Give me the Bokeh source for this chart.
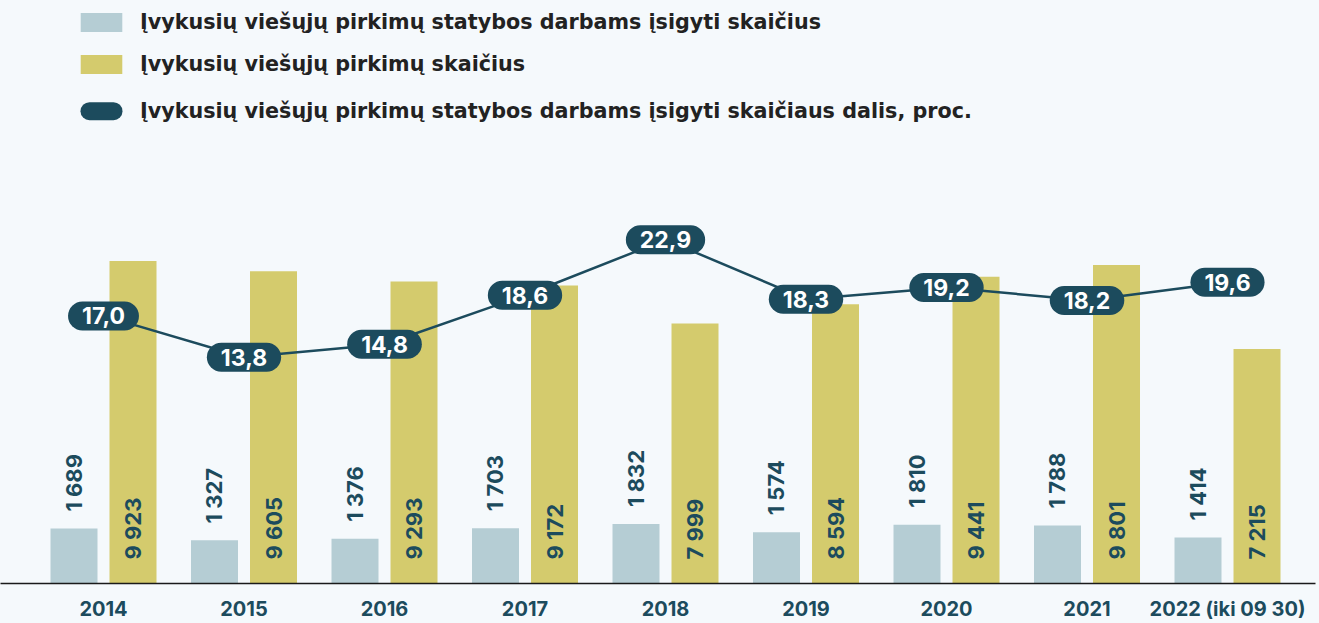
import math
from bokeh.plotting import figure
from bokeh.models import (ColumnDataSource, Range1d, LabelSet, Legend, LegendItem,
                          FixedTicker, BoxAnnotation)
from bokeh.core.properties import value
from bokeh.transform import dodge
from bokeh.embed import file_html
from bokeh.resources import INLINE

# ---------------- data ----------------
years = ["2014", "2015", "2016", "2017", "2018", "2019", "2020", "2021", "2022 (iki 09 30)"]
construction = [1689, 1327, 1376, 1703, 1832, 1574, 1810, 1788, 1414]
total = [9923, 9605, 9293, 9172, 7999, 8594, 9441, 9801, 7215]
share = [17.0, 13.8, 14.8, 18.6, 22.9, 18.3, 19.2, 18.2, 19.6]

legend_labels = [
    "Įvykusių viešųjų pirkimų statybos darbams įsigyti skaičius",
    "Įvykusių viešųjų pirkimų skaičius",
    "Įvykusių viešųjų pirkimų statybos darbams įsigyti skaičiaus dalis, proc.",
]

# ---------------- styles ----------------
BG = "#f5f9fc"
BLUE = "#b5cdd4"
YELLOW = "#d4cb6d"
TEAL = "#1c4b5d"
FONT = "Inter"
LEG_FONT = "DejaVu Sans"

idx = list(range(len(years)))
src = ColumnDataSource(dict(
    idx=idx,
    construction=construction,
    total=total,
    share=share,
    c_txt=[f"{v:,}".replace(",", " ") for v in construction],
    t_txt=[f"{v:,}".replace(",", " ") for v in total],
    s_txt=[f"{v:.1f}".replace(".", ",") for v in share],
    zero=[0] * len(years),
))

W, H = 1319, 623
FRAME_H = 583
PX_PER_UNIT = 0.0325
p = figure(width=W, height=H, output_backend="svg", toolbar_location=None,
           x_range=Range1d(-0.7331, 8.6263), y_range=Range1d(0, FRAME_H / PX_PER_UNIT),
           y_axis_location=None, min_border_left=0, min_border_right=4,
           min_border_top=0, min_border_bottom=40,
           background_fill_color=BG, border_fill_color=BG, outline_line_color=None)
p.extra_y_ranges = {"pct": Range1d(-3.744, 41.45)}
p.xgrid.visible = False
p.ygrid.visible = False

bw = 0.3345
r_blue = p.vbar(x=dodge("idx", -0.21), top="construction", width=bw, source=src,
                fill_color=BLUE, line_color=None)
r_yel = p.vbar(x=dodge("idx", 0.21), top="total", width=bw, source=src,
               fill_color=YELLOW, line_color=None)

p.line(x="idx", y="share", source=src, y_range_name="pct", line_color=TEAL, line_width=2.5)

# legend-only (invisible) renderer for the third legend entry
r_pill = p.line(x=[float("nan")], y=[float("nan")], line_color=TEAL, line_alpha=0)

# value labels on bars
lab_c = LabelSet(x=dodge("idx", -0.21), y="construction", text="c_txt", source=src,
                 angle=math.pi / 2, text_align="left", text_baseline="middle",
                 y_offset=17, text_font=value(FONT), text_font_style="bold",
                 text_font_size="22px", text_color=TEAL)
lab_t = LabelSet(x=dodge("idx", 0.21), y="zero", text="t_txt", source=src,
                 angle=math.pi / 2, text_align="left", text_baseline="middle",
                 y_offset=24, text_font=value(FONT), text_font_style="bold",
                 text_font_size="22px", text_color=TEAL)
p.add_layout(lab_c)
p.add_layout(lab_t)

# percentage labels in rounded boxes
p.text(x="idx", y="share", text="s_txt", source=src, y_range_name="pct",
       text_align="center", text_baseline="middle",
       text_font=value(FONT), text_font_style="bold", text_font_size="23px",
       text_color="white", background_fill_color=TEAL,
       border_radius=16, padding=(14, 6))

# x axis
p.xaxis.ticker = FixedTicker(ticks=idx)
p.xaxis.major_label_overrides = {i: y for i, y in zip(idx, years)}
p.xaxis.major_tick_in = 0
p.xaxis.major_tick_out = 0
p.xaxis.minor_tick_line_color = None
p.xaxis.axis_line_color = "#1a1a1a"
p.xaxis.axis_line_width = 1.5
p.xaxis.major_label_standoff = 13
p.xaxis.major_label_text_font = FONT
p.xaxis.major_label_text_font_style = "bold"
p.xaxis.major_label_text_font_size = "20px"
p.xaxis.major_label_text_color = TEAL

# legends
common = dict(orientation="vertical", padding=0, margin=0, border_line_alpha=0,
              background_fill_alpha=0, label_text_font=LEG_FONT,
              label_text_font_style="bold", label_text_font_size="20.7px",
              label_text_color="#222222", glyph_width=52, glyph_height=24,
              label_height=26, label_standoff=13)
leg1 = Legend(items=[LegendItem(label=legend_labels[0], renderers=[r_blue]),
                     LegendItem(label=legend_labels[1], renderers=[r_yel])],
              location=(75, FRAME_H - 77), spacing=16, **common)
leg2 = Legend(items=[LegendItem(label=legend_labels[2], renderers=[r_pill])],
              location=(75, FRAME_H - 124), **common)
p.add_layout(leg1)
p.add_layout(leg2)

# rounded swatch of the third legend entry
p.add_layout(BoxAnnotation(left=(80 - 103) / 140.5, right=(122 - 103) / 140.5,
                           top=(FRAME_H - 101.7) / PX_PER_UNIT,
                           bottom=(FRAME_H - 119.7) / PX_PER_UNIT,
                           fill_color=TEAL, fill_alpha=1, line_color=None,
                           border_radius=10))

html = file_html(p, INLINE)
html = html.replace("<body>", '<body style="background-color:%s;">' % BG)
open("out.html", "w").write(html)
